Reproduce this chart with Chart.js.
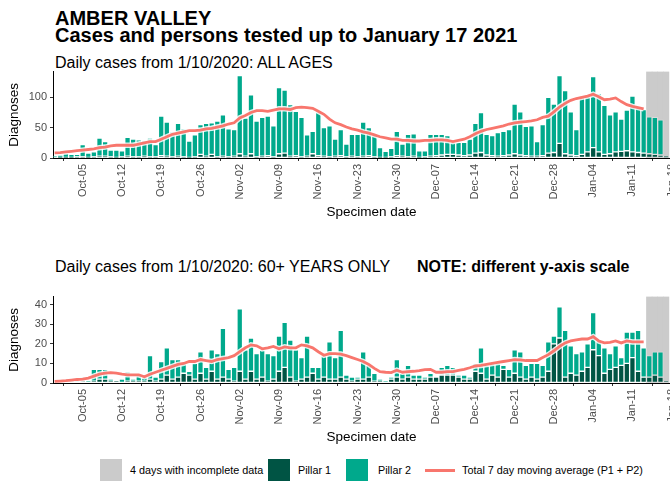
<!DOCTYPE html>
<html lang="en">
<head>
<meta charset="UTF-8">
<title>Amber Valley - cases</title>
<script src="https://cdn.jsdelivr.net/npm/chart.js"></script>
<style>
    body {
        margin: 0;
        background: #ffffff;
        font-family: 'Liberation Sans', Arial, sans-serif;
    }
    #page {
        position: relative;
        width: 670px;
        height: 485px;
        overflow: hidden;
    }
    .txt {
        position: absolute;
        white-space: nowrap;
        color: #000;
        line-height: 1;
    }
    .title { font-size: 20px; font-weight: bold; left: 55px; }
    .sub { font-size: 16px; }
    canvas { position: absolute; left: 0; }
    .key { position: absolute; width: 22px; height: 22px; top: 459px; }
    .leg { position: absolute; font-size: 10.8px; top: 465px; white-space: nowrap; line-height: 1; }
</style>
</head>
<body>
<div id="page">
    <div class="txt title" style="top:8px">AMBER VALLEY</div>
    <div class="txt title" style="top:25px">Cases and persons tested up to January 17 2021</div>
    <div class="txt sub" style="left:55px; top:54.5px">Daily cases from 1/10/2020: ALL AGES</div>
    <canvas id="chartAll" width="690" height="165" style="top:62px"></canvas>

    <div class="txt sub" style="left:55px; top:258.5px">Daily cases from 1/10/2020: 60+ YEARS ONLY</div>
    <div class="txt sub" style="left:417px; top:258.5px; font-weight:bold">NOTE: different y-axis scale</div>
    <canvas id="chartOld" width="690" height="165" style="top:287px"></canvas>

    <!-- legend shared by both panels -->
    <div class="key" style="left:100px; background:#cbcbcb"></div>
    <div class="leg" style="left:130px">4 days with incomplete data</div>
    <div class="key" style="left:268px; background:#005444"></div>
    <div class="leg" style="left:298px">Pillar 1</div>
    <div class="key" style="left:346px; background:#00a98c"></div>
    <div class="leg" style="left:378px">Pillar 2</div>
    <div class="key" style="left:425px; width:30px; height:3px; top:468.5px; background:#f8766d"></div>
    <div class="leg" style="left:462px">Total 7 day moving average (P1 + P2)</div>
</div>

<script>
    // day 0 = 30 Sep 2020 ... day 109 = 17 Jan 2021
    const tickDays = [5, 12, 19, 26, 33, 40, 47, 54, 61, 68, 75, 82, 89, 96, 103, 110];
    const tickLabels = ['Oct-05', 'Oct-12', 'Oct-19', 'Oct-26', 'Nov-02', 'Nov-09', 'Nov-16', 'Nov-23',
                        'Nov-30', 'Dec-07', 'Dec-14', 'Dec-21', 'Dec-28', 'Jan-04', 'Jan-11', 'Jan-18'];
    const incompleteDays = [106, 107, 108, 109];

    // ALL AGES
    const allPillar1 = [0,1,1,1,2,2,1,2,3,3, 2,1,2,3,2,2,3,2,2,4, 3,2,3,2,1,2,6,3,6,2,
                        3,2,3,7,3,7,2,3,4,2, 7,8,3,4,2,3,7,4,3,2, 3,4,2,3,2,3,4,2,1,1,
                        2,4,3,2,3,1,2,3,4,5, 6,6,5,4,5,8,9,5,4,3, 4,5,7,5,4,3,3,4,8,9,
                        24,7,5,4,6,10,17,10,6,7, 10,11,12,10,9,8,7,6,5,3];
    const allPillar2 = [3,4,7,5,4,20,7,8,30,24, 11,12,10,31,29,28,26,31,20,65, 56,41,54,46,27,36,49,54,52,59,
                        68,46,44,129,63,97,59,64,65,51, 109,104,85,73,65,35,37,72,47,51, 28,43,21,36,37,56,46,35,16,10,
                        14,40,20,37,37,11,10,36,35,34, 31,20,21,22,26,49,66,34,33,39, 40,42,82,71,48,50,24,51,92,80,
                        112,104,71,43,97,93,117,96,81,64, 66,53,67,92,75,72,61,61,58,0];
    const allAverage = [8.5,9,10,11,12,13,14,15,17,18, 20,21,21,21,21,23,25,27,27,31, 35,39,41,43,45,45,46,48,49,51,
                        53,56,58,66,70,75,78,78,77,79, 81,81,80,83,84,83,82,77,72,64, 58,55,51,48,46,43,41,38,35,33,
                        31,31,29,29,28,28,29,29,30,30, 29,27,29,31,35,40,44,47,49,51, 53,56,58,59,60,61,63,67,69,76,
                        84,90,95,98,100,102,105,101,96,97, 99,93,88,85,83,81];

    // 60+ YEARS
    const oldPillar1 = [0,0,0,0,0,1,0,1,2,2, 1,1,0,1,1,1,1,2,1,2, 4,2,3,5,4,2,5,2,6,2,
                        3,2,1,6,2,6,2,3,1,2, 6,8,3,1,2,3,5,2,3,2, 2,3,2,1,2,2,3,1,1,0,
                        2,3,2,3,2,2,2,3,3,4, 4,4,3,2,2,6,5,2,4,3, 7,3,5,3,2,3,2,3,6,20,
                        23,3,5,4,6,8,17,14,5,7, 8,9,10,13,6,3,3,4,3,1];
    const oldPillar2 = [0,1,1,1,1,2,1,6,5,5, 1,0,2,5,1,4,2,12,2,9, 14,10,9,5,2,8,11,6,11,13,
                        25,5,7,32,15,17,13,14,14,12, 18,23,19,16,11,21,3,6,11,19, 11,24,2,2,1,14,6,4,1,1,
                        1,9,3,6,2,2,1,2,0,4, 5,4,1,2,1,4,13,7,6,8, 2,4,12,13,7,7,8,6,15,4,
                        16,24,14,11,10,12,19,8,13,8, 11,4,16,13,21,15,11,12,13,0];
    const oldAverage = [0.8,1,1.2,1.5,1.8,2,2.5,3.5,4.5,5, 5.3,5,4.5,4.2,4.2,4.2,3.2,4.5,5.5,6.5,
                        7.5,8.5,9.5,10,11,11,12,11.5,11,12, 12.5,13,14,16,18,19.5,19,17.5,18,18.7,
                        17.5,18.5,18,18,19.5,19,18,16,14.2,15, 15,14.8,14,13,12,11,9.5,7.5,5.8,5.5,
                        5.3,6.5,5.5,5.8,6,6.3,6.8,7,5.5,5.5, 5.8,5.8,6.5,7,7.8,8.7,9,9.5,10,10.5,
                        11,11.5,12,11.8,11.5,11.5,11.5,13,14.5,16.5, 18.7,20.5,21.5,22,22.5,22.5,23.7,21.5,20.5,20.8,
                        21.5,20.5,21.5,21,21,21];

    const allTicks = [0, 50, 100];
    const oldTicks = [0, 10, 20, 30, 40];

    function points(values) {
        return values.map((v, i) => ({ x: i, y: v }));
    }

    function makeChart(id, pillar1, pillar2, average, yMax, yTicks) {
        const barStyle = {
            borderColor: 'rgba(255,255,255,0.3)',
            borderWidth: 1,
            borderSkipped: false,
            barPercentage: 1,
            categoryPercentage: 1
        };
        return new Chart(document.getElementById(id), {
            type: 'bar',
            data: {
                datasets: [
                    Object.assign({ label: 'Pillar 1', data: points(pillar1), backgroundColor: '#005444', stack: 'cases', order: 2 }, barStyle),
                    Object.assign({ label: 'Pillar 2', data: points(pillar2), backgroundColor: '#00a98c', stack: 'cases', order: 2 }, barStyle),
                    { type: 'line', label: 'halo', data: points(average), borderColor: 'rgba(255,255,255,0.85)',
                      borderWidth: 5.5, pointRadius: 0, tension: 0, stack: 'halo', order: 1 },
                    { type: 'line', label: 'Total 7 day moving average (P1 + P2)', data: points(average), borderColor: '#f8766d',
                      borderWidth: 2.8, pointRadius: 0, tension: 0, stack: 'avg', order: 0 },
                    { label: '4 days with incomplete data', data: incompleteDays.map(d => ({ x: d, y: 1 })), yAxisID: 'yb',
                      backgroundColor: '#cbcbcb', grouped: false, barPercentage: 1, categoryPercentage: 1, order: 5 }
                ]
            },
            options: {
                responsive: false,
                animation: false,
                layout: { padding: { top: 7.3, left: 0, right: 0, bottom: 0 } },
                plugins: { legend: { display: false }, tooltip: { enabled: false } },
                scales: {
                    x: {
                        type: 'linear',
                        min: -0.29,
                        max: 113.26,
                        offset: false,
                        afterBuildTicks: axis => { axis.ticks = tickDays.map(v => ({ value: v })); },
                        afterFit: axis => { axis.height = 69; },
                        ticks: {
                            autoSkip: false,
                            minRotation: 90,
                            maxRotation: 90,
                            padding: 3,
                            color: '#4d4d4d',
                            font: { family: "'Liberation Sans', Arial", size: 11 },
                            callback: (value, index) => tickLabels[index]
                        },
                        grid: { display: true, drawOnChartArea: false, tickLength: 3, tickColor: '#333' },
                        border: { display: true, color: '#000', width: 1 },
                        title: { display: true, text: 'Specimen date', color: '#000',
                                 font: { family: "'Liberation Sans', Arial", size: 13.5 }, padding: { top: 0, bottom: 6.9 } }
                    },
                    y: {
                        stacked: true,
                        min: 0,
                        max: yMax,
                        afterBuildTicks: axis => { axis.ticks = yTicks.map(v => ({ value: v })); },
                        afterFit: axis => { axis.width = 53; },
                        ticks: { padding: 3, color: '#4d4d4d', font: { family: "'Liberation Sans', Arial", size: 11 } },
                        grid: { display: true, drawOnChartArea: false, tickLength: 3, tickColor: '#333' },
                        border: { display: true, color: '#000', width: 1 },
                        title: { display: true, text: 'Diagnoses', color: '#000',
                                 font: { family: "'Liberation Sans', Arial", size: 13.5 }, padding: { top: 6.4, bottom: 0 } }
                    },
                    yb: { display: false, min: 0, max: 1 }
                }
            }
        });
    }

    makeChart('chartAll', allPillar1, allPillar2, allAverage, 142.4, allTicks);
    makeChart('chartOld', oldPillar1, oldPillar2, oldAverage, 44.2, oldTicks);
</script>
</body>
</html>
